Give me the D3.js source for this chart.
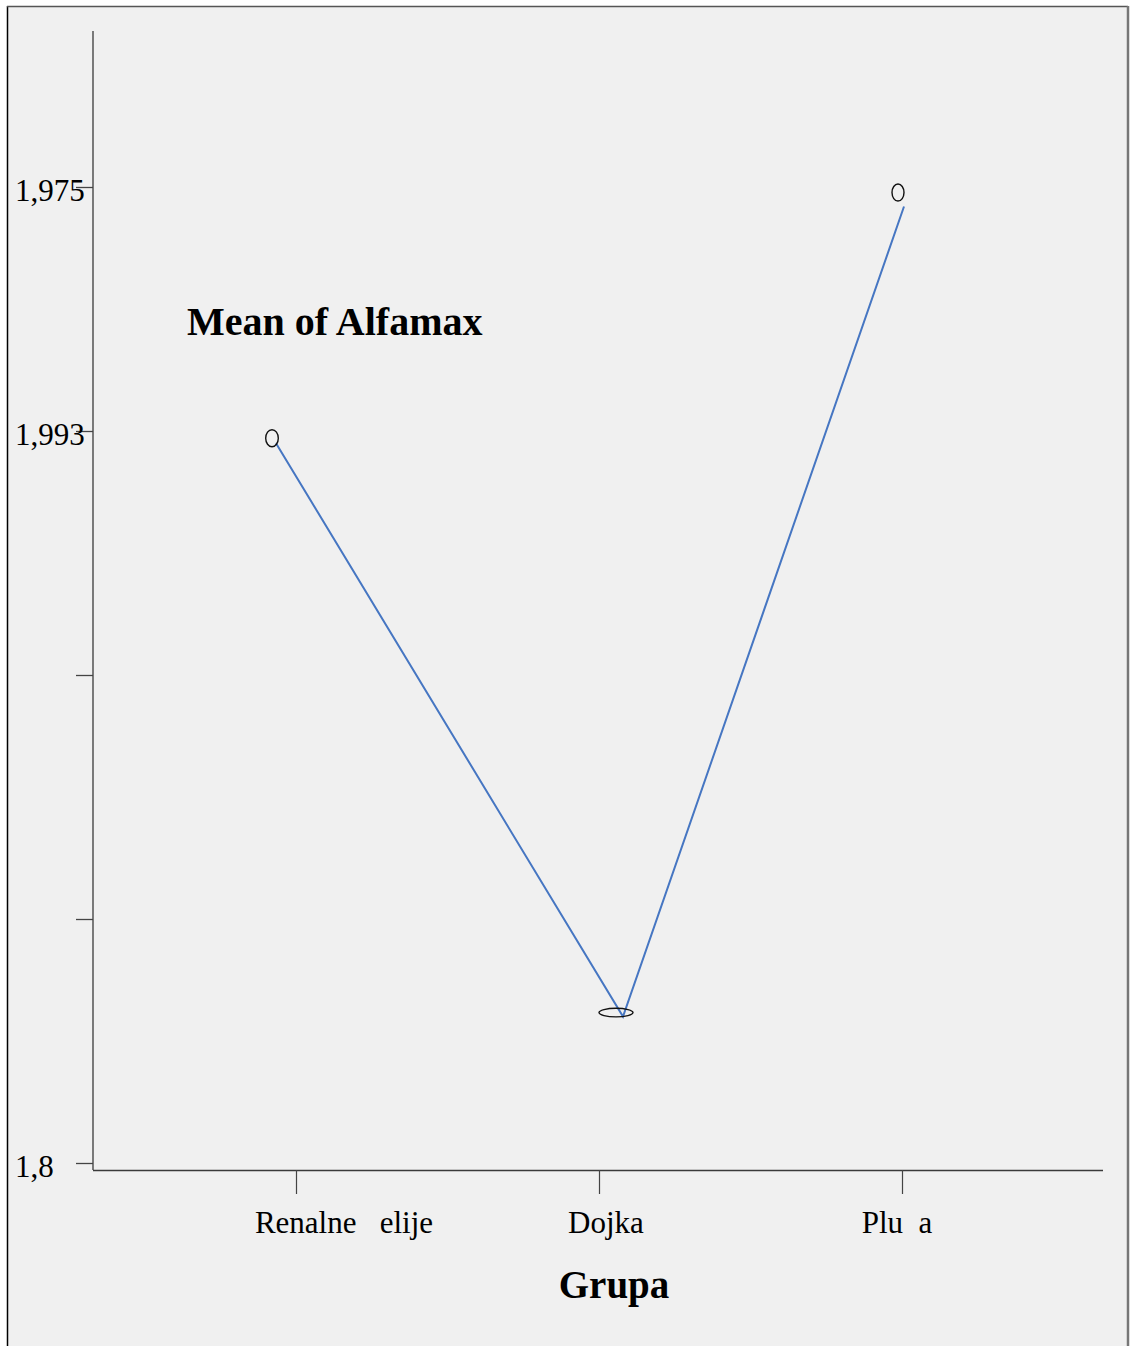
<!DOCTYPE html>
<html>
<head>
<meta charset="utf-8">
<script src="https://cdn.jsdelivr.net/npm/d3@7"></script>
<style>
  html, body { margin: 0; padding: 0; background: #ffffff; }
  svg { display: block; }
  text { font-family: "Liberation Serif", "Times New Roman", serif; white-space: pre; }
</style>
</head>
<body>
<script>
// Group means of Alfamax
const groups = ["Renalne   elije", "Dojka", "Plu  a"];
const meanAlfamax = [1.9475, 1.830, 1.996];

// Y axis ticks and their printed labels
const yTickValues = [1.80, 1.85, 1.90, 1.95, 2.00];
const yTickLabels = ["1,8", "", "", "1,993", "1,975"];

const W = 1133, H = 1346;
const svg = d3.select("body").append("svg").attr("width", W).attr("height", H);

// chart panel
svg.append("rect")
  .attr("x", 7.5).attr("y", 6.5)
  .attr("width", 1120).attr("height", H + 10)
  .attr("fill", "#f0f0f0").attr("stroke", "none");
svg.append("line").attr("x1", 7.5).attr("x2", 7.5).attr("y1", 6).attr("y2", H)
  .attr("stroke", "#000").attr("stroke-width", 1.5);
svg.append("line").attr("x1", 7).attr("x2", 1128).attr("y1", 6.5).attr("y2", 6.5)
  .attr("stroke", "#555").attr("stroke-width", 1.5);
svg.append("line").attr("x1", 1128).attr("x2", 1128).attr("y1", 6).attr("y2", H)
  .attr("stroke", "#777").attr("stroke-width", 2.5);

const axisX = 93, axisBottom = 1170, axisTop = 31, axisRight = 1103;

const y = d3.scaleLinear().domain([1.80, 2.00]).range([1163, 187]);
const x = d3.scalePoint().domain(groups).range([296, 902]);

// Y axis
const gy = svg.append("g");
gy.append("line").attr("x1", axisX).attr("x2", axisX).attr("y1", axisTop).attr("y2", axisBottom)
  .attr("stroke", "#3a3a3a").attr("stroke-width", 1.3);
gy.selectAll("line.tick").data(yTickValues).join("line").attr("class", "tick")
  .attr("x1", 76).attr("x2", axisX)
  .attr("y1", d => Math.round(y(d)) + 0.5).attr("y2", d => Math.round(y(d)) + 0.5)
  .attr("stroke", "#444").attr("stroke-width", 1.3);
gy.selectAll("text").data(yTickValues).join("text")
  .attr("x", 15).attr("y", d => y(d) + 13.5)
  .attr("font-size", 31).attr("fill", "#000")
  .text((d, i) => yTickLabels[i]);

// X axis
const gx = svg.append("g");
gx.append("line").attr("x1", axisX).attr("x2", axisRight).attr("y1", axisBottom + 0.5).attr("y2", axisBottom + 0.5)
  .attr("stroke", "#3a3a3a").attr("stroke-width", 1.3);
gx.selectAll("line.tick").data(groups).join("line").attr("class", "tick")
  .attr("x1", d => Math.round(x(d)) + 0.5).attr("x2", d => Math.round(x(d)) + 0.5)
  .attr("y1", axisBottom).attr("y2", 1194)
  .attr("stroke", "#444").attr("stroke-width", 1.2);
const labelShift = [48, 7, -5];
gx.selectAll("text").data(groups).join("text")
  .attr("x", (d, i) => x(d) + labelShift[i]).attr("y", 1233)
  .attr("text-anchor", "middle").attr("font-size", 31).attr("fill", "#000")
  .text(d => d);

// axis title
svg.append("text").attr("x", 614).attr("y", 1298)
  .attr("text-anchor", "middle").attr("font-size", 39).attr("font-weight", "bold")
  .text("Grupa");

// chart label
svg.append("text").attr("x", 187).attr("y", 335)
  .attr("font-size", 40).attr("font-weight", "bold")
  .text("Mean of Alfamax");

// series line
const lineShift = [-20, 24, 2];
const pts = groups.map((g, i) => ({ g, v: meanAlfamax[i], px: x(g) + lineShift[i], py: y(meanAlfamax[i]) }));
svg.append("path")
  .attr("d", d3.line().x(d => d.px).y(d => d.py)(pts))
  .attr("fill", "none").attr("stroke", "#4676c2").attr("stroke-width", 2)
  .attr("stroke-linejoin", "miter");

// point markers
const markerStyle = [
  { dx: -4, dy: -5, rx: 6.3, ry: 8.5 },
  { dx: -7, dy: -4, rx: 17, ry: 4.3 },
  { dx: -6, dy: -14, rx: 6, ry: 8.5 }
];
svg.selectAll("ellipse.marker").data(pts).join("ellipse").attr("class", "marker")
  .attr("cx", (d, i) => d.px + markerStyle[i].dx)
  .attr("cy", (d, i) => d.py + markerStyle[i].dy)
  .attr("rx", (d, i) => markerStyle[i].rx)
  .attr("ry", (d, i) => markerStyle[i].ry)
  .attr("fill", "none").attr("stroke", "#111").attr("stroke-width", 1.4);
</script>
</body>
</html>
